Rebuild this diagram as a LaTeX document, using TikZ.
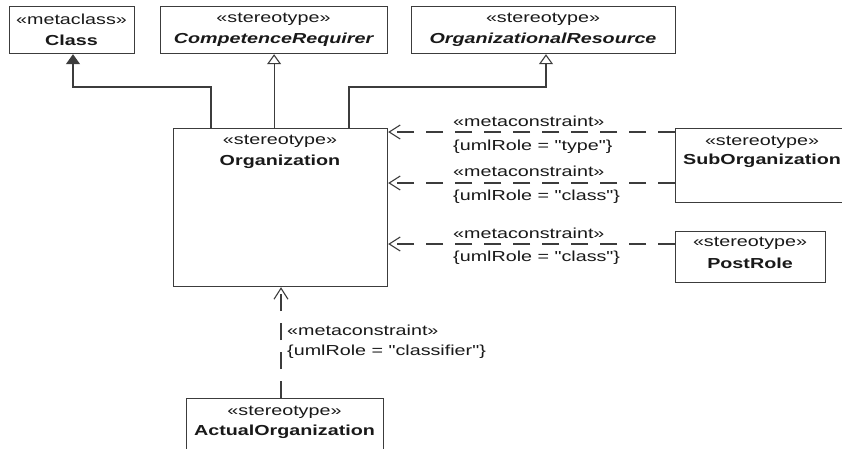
\documentclass[tikz,border=0pt]{standalone}
\usepackage{fontspec}
\setmainfont{Liberation Sans}[Ligatures=TeXOff]
\usetikzlibrary{arrows.meta}
\definecolor{ln}{RGB}{60,60,60}
\definecolor{tx}{RGB}{25,25,25}
\newcommand{\hs}[1]{\scalebox{1.36}[1]{#1}}
\tikzset{
  box/.style={draw=ln, line width=1.2pt, fill=white, anchor=north west, inner sep=0pt},
  lbl/.style={text=tx, inner sep=0pt, font=\fontsize{14.5}{17}\selectfont},
  nm/.style={lbl, font=\fontsize{14.5}{17}\selectfont\bfseries},
  conn/.style={draw=ln, line width=1.1pt},
  extarrow/.style={conn, -{Triangle[length=10pt,width=14pt,fill=ln]}},
  genarrow/.style={conn, -{Triangle[open,length=10pt,width=14pt,fill=white]}},
  deparrow/.style={conn, dash pattern=on 17pt off 12pt, -{Straight Barb[length=11pt,width=14pt]}}
}
\begin{document}
\begin{tikzpicture}[x=1pt,y=-1pt]
\useasboundingbox (0,0) rectangle (842,448);
\clip (0,0) rectangle (842,448);
\fill[white] (0,0) rectangle (842,448);

% boxes
\node[box, minimum width=125pt, minimum height=47pt] (cls) at (9,6) {};
\node[box, minimum width=227pt, minimum height=47pt] (comp) at (160,6) {};
\node[box, minimum width=264pt, minimum height=47pt] (orgres) at (411,6) {};
\node[box, minimum width=214pt, minimum height=158pt] (org) at (173,128) {};
\node[box, minimum width=190pt, minimum height=74pt] (sub) at (675,128) {};
\node[box, minimum width=150pt, minimum height=51pt] (post) at (675,231) {};
\node[box, minimum width=197pt, minimum height=70pt] (act) at (186,398) {};

% box texts
\node[lbl] (clsS) at (71.5,19) {\hs{«metaclass»}};
\node[nm] (clsN) at (71.5,40) {\hs{Class}};
\node[lbl] (compS) at (273.5,19) {\hs{«stereotype»}};
\node[nm, font=\fontsize{14.5}{17}\selectfont\bfseries\itshape] (compN) at (273.5,40) {\hs{CompetenceRequirer}};
\node[lbl] (orgresS) at (543,19) {\hs{«stereotype»}};
\node[nm, font=\fontsize{14.5}{17}\selectfont\bfseries\itshape] (orgresN) at (543,40) {\hs{OrganizationalResource}};
\node[lbl] (orgS) at (280,141) {\hs{«stereotype»}};
\node[nm] (orgN) at (280,162) {\hs{Organization}};
\node[lbl] (subS) at (762,142) {\hs{«stereotype»}};
\node[nm, anchor=west] (subN) at (683,161) {\hs{SubOrganization}};
\node[lbl] (postS) at (750,243) {\hs{«stereotype»}};
\node[nm] (postN) at (750,263) {\hs{PostRole}};
\node[lbl] (actS) at (284.5,412) {\hs{«stereotype»}};
\node[nm] (actN) at (284.5,432) {\hs{ActualOrganization}};

% junctions
\coordinate (j1) at (211,87);
\coordinate (j2) at (349,87);
\coordinate (ja) at (73,87);
\coordinate (jb) at (546,87);
\coordinate (y1) at (0,132);
\coordinate (y2) at (0,183);
\coordinate (y3) at (0,244);
\coordinate (v) at (281,0);

% generalizations / extensions
\draw[extarrow] (org.north -| j1) -- (j1) -- (ja) -- (cls.south -| ja);
\draw[genarrow] (org.north -| comp.south) -- (comp.south);
\draw[genarrow] (org.north -| j2) -- (j2) -- (jb) -- (orgres.south -| jb);

% dependencies
\draw[deparrow] (sub.west |- y1) -- (org.east |- y1);
\draw[deparrow] (sub.west |- y2) -- (org.east |- y2);
\draw[deparrow] (post.west |- y3) -- (org.east |- y3);
\draw[deparrow] (act.north -| v) -- (org.south -| v);

% dependency labels
\node[lbl, anchor=west] (m1) at (453,121) {\hs{«metaconstraint»}};
\node[lbl, anchor=west] (r1) at (453,147) {\hs{\{umlRole = "type"\}}};
\node[lbl, anchor=west] (m2) at (453,171) {\hs{«metaconstraint»}};
\node[lbl, anchor=west] (r2) at (453,197) {\hs{\{umlRole = "class"\}}};
\node[lbl, anchor=west] (m3) at (453,233) {\hs{«metaconstraint»}};
\node[lbl, anchor=west] (r3) at (453,258) {\hs{\{umlRole = "class"\}}};
\node[lbl, anchor=west] (m4) at (287,330) {\hs{«metaconstraint»}};
\node[lbl, anchor=west] (r4) at (287,352) {\hs{\{umlRole = "classifier"\}}};
\end{tikzpicture}
\end{document}
